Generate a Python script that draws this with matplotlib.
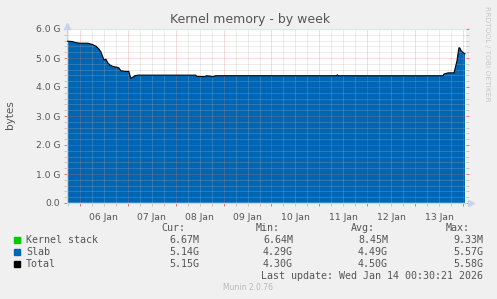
"""Kernel memory - by week (munin style)"""

import matplotlib
matplotlib.use('Agg')
import matplotlib.pyplot as plt
from matplotlib.transforms import blended_transform_factory

# hours since 05 Jan 00:00
hours = [17.5, 20, 22, 24, 28, 30, 32, 33.5, 34.5, 35.5, 36, 37, 38, 39, 40.5,
         42, 43.5, 44.5, 47, 48.5, 49, 49.5, 50.5, 51.5, 53, 82, 82.5, 86.5, 87.5, 89,
         90.5, 92, 152.5, 153, 153.5, 206, 206.5, 208.5, 211.5, 212, 213, 213.5, 214,
         214.5, 215, 216, 217]
# values in G
slab = [5.57, 5.56, 5.52, 5.50, 5.50, 5.46, 5.40, 5.30, 5.20, 5.02, 4.92, 4.95, 4.82,
        4.75, 4.70, 4.68, 4.65, 4.55, 4.53, 4.53, 4.40, 4.29, 4.33, 4.38, 4.40, 4.40,
        4.36, 4.35, 4.38, 4.37, 4.35, 4.38, 4.38, 4.41, 4.38, 4.38, 4.44, 4.48, 4.48,
        4.62, 4.90, 5.15, 5.35, 5.33, 5.25, 5.18, 5.14]
kstack = [0.0093, 0.0093, 0.0093, 0.0092, 0.0092, 0.0092, 0.0091, 0.0091, 0.0091,
          0.0090, 0.0090, 0.0090, 0.0089, 0.0089, 0.0089, 0.0088, 0.0088, 0.0088,
          0.0087, 0.0087, 0.0087, 0.0086, 0.0086, 0.0086, 0.0085, 0.0085, 0.0085,
          0.0084, 0.0084, 0.0084, 0.0083, 0.0083, 0.0082, 0.0082, 0.0082, 0.0075,
          0.0074, 0.0073, 0.0072, 0.0071, 0.0070, 0.0069, 0.0068, 0.0068, 0.0067,
          0.0067, 0.0067]
total = [s + k for s, k in zip(slab, kstack)]

day_labels = ['06 Jan', '07 Jan', '08 Jan', '09 Jan', '10 Jan', '11 Jan', '12 Jan', '13 Jan']
ytick_labels = ['0.0', '1.0 G', '2.0 G', '3.0 G', '4.0 G', '5.0 G', '6.0 G']

legend_names = ['Kernel stack', 'Slab', 'Total']
legend_colors = ['#00cc00', '#0066b3', '#000000']
cur_vals = ['6.67M', '5.14G', '5.15G']
min_vals = ['6.64M', '4.29G', '4.30G']
avg_vals = ['8.45M', '4.49G', '4.50G']
max_vals = ['9.33M', '5.57G', '5.58G']

W, H = 497, 299
BG = '#f0f0f0'
TXT = '#555555'

fig = plt.figure(figsize=(W / 100, H / 100), dpi=100, facecolor=BG)
ax = fig.add_axes([67 / W, (H - 203) / H, 399 / W, 174 / H])
ax.set_facecolor('white')

x_lo = 17.5
x_hi = 217.5
ax.set_xlim(x_lo, x_hi)
ax.set_ylim(0, 6.0)

ax.stackplot(hours, kstack, slab, colors=[legend_colors[0], legend_colors[1]], lw=0, zorder=1)
ax.plot(hours, total, color='black', lw=0.8, zorder=3)

# grid: minor every 6h / 0.2G, major at midnight / 1G
dots = (0, (1, 1))
for h in range(18, 218, 6):
    major = h % 24 == 0
    ax.axvline(h, color='#e07070' if major else '#b4b4b4', lw=0.72,
               ls=dots, alpha=0.5, zorder=2)
for i in range(1, 31):
    v = i * 0.2
    major = i % 5 == 0
    ax.axhline(v, color='#e07070' if major else '#b4b4b4', lw=0.72,
               ls=dots, alpha=0.5, zorder=2)

ax.set_xticks(range(24, 218, 24))
ax.set_xticks(range(18, 218, 6), minor=True)
ax.set_xticklabels([])
ax.set_yticks(range(0, 7))
ax.set_yticks([i * 0.2 for i in range(31)], minor=True)
ax.set_yticklabels(ytick_labels, fontsize=6.6, color=TXT)
ax.tick_params(axis='both', which='major', color='#e06060', length=2, width=0.6, pad=3)
ax.tick_params(axis='both', which='minor', color='#c0c0c0', length=2, width=0.6)
ax.tick_params(axis='y', which='both', right=True)

trans = blended_transform_factory(ax.transData, ax.transAxes)
for i, lab in enumerate(day_labels):
    ax.text(36 + 24 * i, -0.055, lab, transform=trans, ha='center', va='top',
            fontsize=6.7, color=TXT)

for side in ['top', 'right']:
    ax.spines[side].set_visible(False)
ax.spines['left'].set_color('#c8d4ec')
ax.spines['bottom'].set_color('#c8d4ec')
ax.spines['left'].set_linewidth(0.8)
ax.spines['bottom'].set_linewidth(0.8)
ax.plot([x_lo], [6.12], marker='^', ms=4, color='#c8d4ec', clip_on=False)
ax.plot([x_hi + 2.5], [0], marker='>', ms=4, color='#c8d4ec', clip_on=False)

fig.text(250 / W, 1 - 19 / H, 'Kernel memory - by week', ha='center', va='center',
         fontsize=9, color=TXT)
fig.text(10 / W, 1 - 115 / H, 'bytes', rotation=90, ha='center', va='center',
         fontsize=7.5, color=TXT)
fig.text(487 / W, 1 - 54 / H, 'RRDTOOL / TOBI OETIKER', rotation=270, ha='center',
         va='center', fontsize=5.4, color='#c8c8c8')

# legend table
mono = 'DejaVu Sans Mono'
fs = 7.2
fig.text(185 / W, 1 - 228 / H, 'Cur:', ha='right', va='center', family=mono, fontsize=fs, color=TXT)
fig.text(280 / W, 1 - 228 / H, 'Min:', ha='right', va='center', family=mono, fontsize=fs, color=TXT)
fig.text(375 / W, 1 - 228 / H, 'Avg:', ha='right', va='center', family=mono, fontsize=fs, color=TXT)
fig.text(470 / W, 1 - 228 / H, 'Max:', ha='right', va='center', family=mono, fontsize=fs, color=TXT)
for i, name in enumerate(legend_names):
    y = 1 - (240 + 12 * i) / H
    fig.patches.append(plt.Rectangle((14 / W, y - 3 / H), 6 / W, 6 / H,
                                     transform=fig.transFigure, color=legend_colors[i]))
    fig.text(26 / W, y, name, ha='left', va='center', family=mono, fontsize=fs, color=TXT)
    fig.text(199 / W, y, cur_vals[i], ha='right', va='center', family=mono, fontsize=fs, color=TXT)
    fig.text(293 / W, y, min_vals[i], ha='right', va='center', family=mono, fontsize=fs, color=TXT)
    fig.text(388 / W, y, avg_vals[i], ha='right', va='center', family=mono, fontsize=fs, color=TXT)
    fig.text(483 / W, y, max_vals[i], ha='right', va='center', family=mono, fontsize=fs, color=TXT)
fig.text(483 / W, 1 - 276 / H, 'Last update: Wed Jan 14 00:30:21 2026', ha='right',
         va='center', family=mono, fontsize=fs, color=TXT)
fig.text(248 / W, 1 - 288 / H, 'Munin 2.0.76', ha='center', va='center',
         fontsize=5.5, color='#b8b8b8')

fig.savefig('out.png', dpi=100, facecolor=BG)
